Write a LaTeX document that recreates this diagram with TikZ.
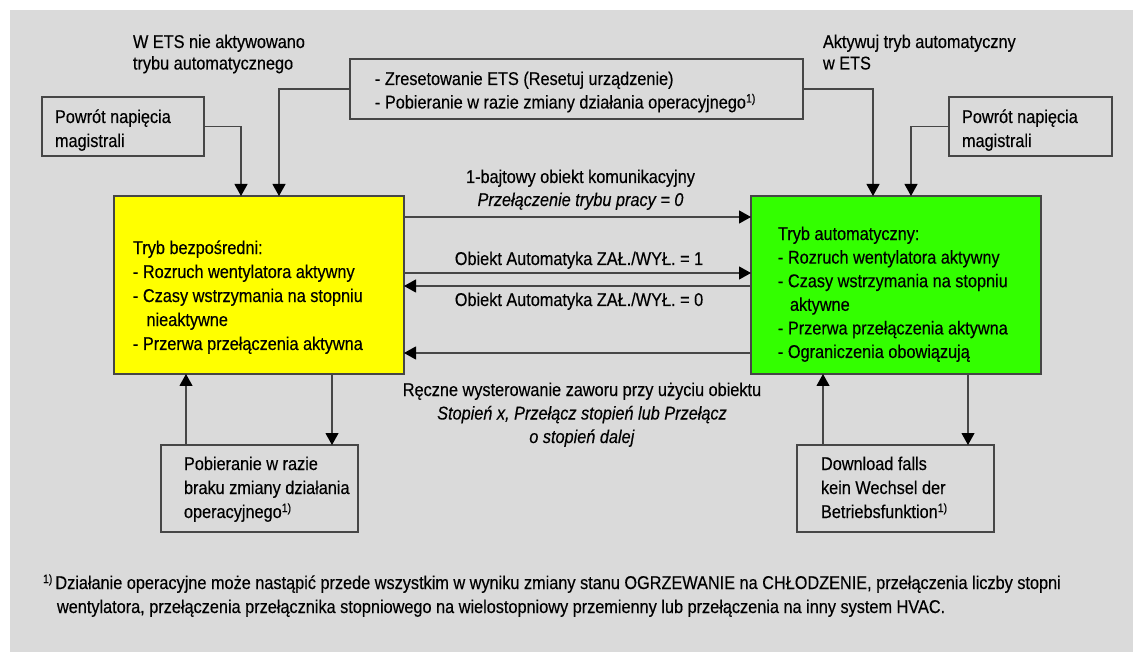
\documentclass[tikz,border=0pt]{standalone}
\usepackage{fontspec}
\setmainfont{Liberation Sans}[FakeStretch=0.88,FakeBold=0.35]
\usetikzlibrary{arrows.meta,calc}
\definecolor{bg}{RGB}{218,218,218}
\definecolor{ylw}{RGB}{255,255,0}
\definecolor{grn}{RGB}{51,255,0}
\definecolor{edge}{RGB}{70,70,70}
\newcommand\fnmark{\raisebox{6pt}{\fontsize{12}{12}\selectfont 1)}}
\begin{document}
\begin{tikzpicture}[x=1pt,y=-1pt,
  box/.style={draw=edge, line width=1.1pt, anchor=north west, inner sep=0pt, outer sep=0pt},
  conn/.style={draw=edge, line width=1.1pt, -{Triangle[length=12pt,width=13pt,color=black]}},
  blk/.style={anchor=north west, inner sep=0pt, outer sep=0pt, align=left,
    font=\fontsize{18.5}{#1}\selectfont, yshift=#1*0.7pt},
  cblk/.style={anchor=north, inner sep=0pt, outer sep=0pt, align=center,
    font=\fontsize{18.5}{#1}\selectfont, yshift=#1*0.7pt}]
\useasboundingbox (0,0) rectangle (1133,652);
\fill[bg] (10,10) rectangle (1133,652);

% boxes
\node[box, minimum width=162pt, minimum height=59pt] (lpow) at (42,97) {};
\node[box, minimum width=453pt, minimum height=60pt] (reset) at (350,59) {};
\node[box, minimum width=163pt, minimum height=59pt] (rpow) at (949,97) {};
\node[box, fill=ylw, minimum width=290pt, minimum height=178pt] (direct) at (114,196) {};
\node[box, fill=grn, minimum width=290pt, minimum height=178pt] (auto) at (751,196) {};
\node[box, minimum width=197pt, minimum height=87pt] (dlL) at (161,445) {};
\node[box, minimum width=197pt, minimum height=87pt] (dlR) at (797,445) {};

% texts
\node[blk=21.5] (tLeft) at (133,48) {\strut W ETS nie aktywowano\\trybu automatycznego};
\node[blk=21.5] (tRight) at (823,48) {\strut Aktywuj tryb automatyczny\\w ETS};
\node[blk=23.5] (tReset) at (375,85) {\strut - Zresetowanie ETS (Resetuj urządzenie)\\- Pobieranie w razie zmiany działania operacyjnego\fnmark};
\node[blk=24] (tLpow) at (55,123) {\strut Powrót napięcia\\magistrali};
\node[blk=24] (tRpow) at (962,123) {\strut Powrót napięcia\\magistrali};
\node[blk=24] (tDirect) at (133,254) {\strut Tryb bezpośredni:\\- Rozruch wentylatora aktywny\\- Czasy wstrzymania na stopniu\\\hspace*{13.5pt}nieaktywne\\- Przerwa przełączenia aktywna};
\node[blk=23.6] (tAuto) at (778,240) {\strut Tryb automatyczny:\\- Rozruch wentylatora aktywny\\- Czasy wstrzymania na stopniu\\\hspace*{12pt}aktywne\\- Przerwa przełączenia aktywna\\- Ograniczenia obowiązują};
\node[blk=24] (tDlL) at (184,470) {\strut Pobieranie w razie\\braku zmiany działania\\operacyjnego\fnmark};
\node[blk=24] (tDlR) at (821,470) {\strut Download falls\\kein Wechsel der\\Betriebsfunktion\fnmark};
\node[cblk=23] (tMode) at (580.5,183) {\strut 1-bajtowy obiekt komunikacyjny\\\textit{Przełączenie trybu pracy = 0}};
\node[cblk=23] (tOn) at (579,265) {\strut Obiekt Automatyka ZAŁ./WYŁ. = 1};
\node[cblk=23] (tOff) at (579,306) {\strut Obiekt Automatyka ZAŁ./WYŁ. = 0};
\node[cblk=23.5] (tManual) at (582,396) {\strut Ręczne wysterowanie zaworu przy użyciu obiektu\\\textit{Stopień x, Przełącz stopień lub Przełącz}\\\textit{o stopień dalej}};
\node[blk=24] (tNote) at (43,589) {\strut\fnmark\hspace{3pt}Działanie operacyjne może nastąpić przede wszystkim w wyniku zmiany stanu OGRZEWANIE na CHŁODZENIE, przełączenia liczby stopni\\\hspace*{14pt}wentylatora, przełączenia przełącznika stopniowego na wielostopniowy przemienny lub przełączenia na inny system HVAC.};

% connectors
\draw[conn] (lpow.east) -| ($(direct.north west)+(127,0)$);
\draw[conn] (reset.west) -| ($(direct.north west)+(165,0)$);
\draw[conn] (reset.east) -| ($(auto.north west)+(122,0)$);
\draw[conn] (rpow.west) -| ($(auto.north west)+(160,0)$);
\draw[conn] ($(direct.north east)+(0,21)$) -- ($(auto.north west)+(0,21)$);
\draw[conn] ($(direct.north east)+(0,77)$) -- ($(auto.north west)+(0,77)$);
\draw[conn] ($(auto.north west)+(0,90)$) -- ($(direct.north east)+(0,90)$);
\draw[conn] ($(auto.north west)+(0,157)$) -- ($(direct.north east)+(0,157)$);
\draw[conn] ($(dlL.north west)+(25,0)$) -- ($(direct.south west)+(72,0)$);
\draw[conn] ($(direct.south west)+(218,0)$) -- ($(dlL.north west)+(171,0)$);
\draw[conn] ($(dlR.north west)+(26,0)$) -- ($(auto.south west)+(72,0)$);
\draw[conn] ($(auto.south west)+(217,0)$) -- ($(dlR.north west)+(171,0)$);
\end{tikzpicture}
\end{document}
